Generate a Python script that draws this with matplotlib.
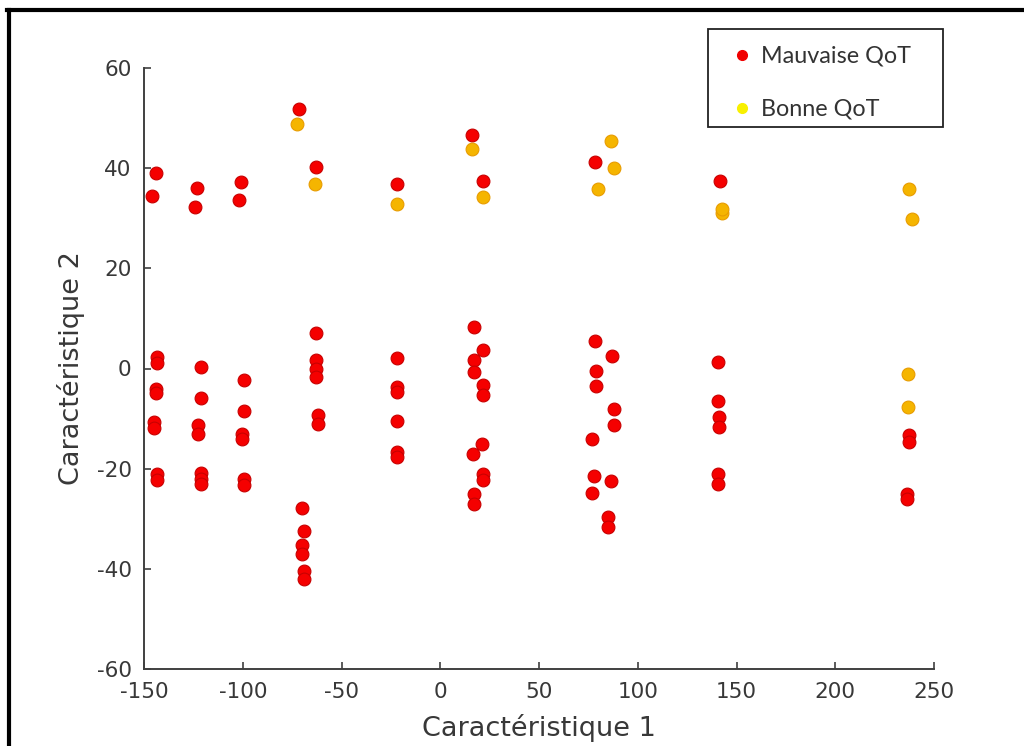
"""
Scatter of QoT classes over two features (Caractéristique 1 / 2).
"""

import matplotlib
matplotlib.use("Agg")
import matplotlib.pyplot as plt
from matplotlib.lines import Line2D
from matplotlib.patches import Rectangle

plt.rcParams["axes.unicode_minus"] = False
plt.rcParams["font.family"] = ["DejaVu Sans"]

# Mauvaise QoT (red)
bad_x = [-144, -146, -123, -124, -100.8, -101.8, -71.4, -62.8, -21.7, 16.3, 21.4, 78.2, 141.6,
         -143.4, -143.6, -144, -143.8, -145, -145, -143.4, -143.4,
         -121, -121, -122.5, -122.5, -121, -121, -121,
         -99.3, -99.5, -100.5, -100.5, -99.5, -99.5,
         -70, -69, -70, -70, -69, -69,
         -62.8, -62.8, -62.8, -62.8, -62, -62,
         -21.7, -21.7, -21.7, -21.7, -21.7, -21.7,
         17.3, 21.4, 17.3, 17.3, 21.4, 21.4, 21, 16.8, 21.4, 21.4, 17.3, 17.3,
         78.2, 86.8, 78.7, 78.7, 87.8, 87.8, 76.7, 77.7, 77, 86.3, 84.8, 84.8,
         140.6, 140.6, 141, 141, 140.6, 140.6,
         237.4, 237.4, 236.5, 236.5]
bad_y = [39, 34.4, 36, 32.2, 37.2, 33.6, 51.8, 40.2, 36.8, 46.6, 37.4, 41.2, 37.4,
         2.2, 1.0, -4.0, -4.8, -10.6, -11.8, -21, -22.2,
         0.2, -5.8, -11.2, -13, -20.8, -22, -23,
         -2.2, -8.4, -13, -14, -22, -23.2,
         -27.8, -32.4, -35.2, -37, -40.4, -42,
         7, 1.6, 0, -1.6, -9.2, -11,
         2, -3.6, -4.6, -10.4, -16.6, -17.6,
         8.2, 3.6, 1.6, -0.6, -3.2, -5.2, -15, -17, -21, -22.2, -25, -27,
         5.4, 2.4, -0.4, -3.4, -8, -11.2, -14, -21.4, -24.8, -22.4, -29.6, -31.6,
         1.2, -6.4, -9.6, -11.6, -21, -23,
         -13.2, -14.6, -25, -26]

# Bonne QoT (yellow)
good_x = [-72.4, -63.3, -21.7, 16.3, 21.4, 79.7, 86.3, 87.8, 142.6, 142.8,
          237.4, 239, 237, 237]
good_y = [48.8, 36.8, 32.8, 43.8, 34.2, 35.8, 45.4, 40, 31.0, 31.8,
          35.8, 29.8, -1, -7.6]

x_ticks = [-150, -100, -50, 0, 50, 100, 150, 200, 250]
y_ticks = [-60, -40, -20, 0, 20, 40, 60]

W, H = 1024, 746
fig = plt.figure(figsize=(W / 100, H / 100), dpi=100)
ax = fig.add_axes([144 / W, 1 - 669 / H, 790 / W, 601 / H])

ax.scatter(bad_x, bad_y, s=85, color="#f50000", edgecolors="#c80000",
           linewidths=0.8, zorder=3)
ax.scatter(good_x, good_y, s=85, color="#f5b500", edgecolors="#e89c00",
           linewidths=0.8, zorder=3)

ax.set_xlim(-150, 250)
ax.set_ylim(-60, 60)
ax.set_xticks(x_ticks)
ax.set_yticks(y_ticks)
for s in ["top", "right"]:
    ax.spines[s].set_visible(False)
for s in ["left", "bottom"]:
    ax.spines[s].set_color("#404040")
    ax.spines[s].set_linewidth(1.4)
ax.tick_params(direction="in", length=5, width=1.2, color="#404040",
               labelsize=15.5, labelcolor="#383838")
ax.tick_params(axis="x", pad=9)
ax.tick_params(axis="y", pad=9)
ax.set_xlabel("Caractéristique 1", fontsize=19.5, color="#383838", labelpad=9)
ax.set_ylabel("Caractéristique 2", fontsize=19.5, color="#383838", labelpad=8)

# legend: entries without frame, box drawn separately (MATLAB-like padding)
handles = [
    Line2D([], [], ls="none", marker="o", ms=7, color="#f00000", mec="#f00000"),
    Line2D([], [], ls="none", marker="o", ms=7, color="#f8f000", mec="#f8f000"),
]
leg = ax.legend(handles, ["Mauvaise QoT", "Bonne QoT"],
                loc="upper left", bbox_to_anchor=(731 / W, 1 - 46 / H),
                bbox_transform=fig.transFigure, borderaxespad=0,
                frameon=False, prop={"family": "Lato", "size": 16.8},
                borderpad=0, labelspacing=1.37, handletextpad=0.4,
                handlelength=0.9)
for t in leg.get_texts():
    t.set_color("#333333")
fig.add_artist(Rectangle((708 / W, 1 - 127 / H), 235 / W, 98 / H,
                         transform=fig.transFigure, fill=False,
                         edgecolor="#222222", lw=1.3))

# outer black frame (top and left edges visible)
fig.add_artist(Line2D([7 / W, 1], [1 - 10 / H, 1 - 10 / H],
                      transform=fig.transFigure, color="black", lw=3))
fig.add_artist(Line2D([9 / W, 9 / W], [0, 1 - 10 / H],
                      transform=fig.transFigure, color="black", lw=3))

fig.savefig("out.png", dpi=100)
